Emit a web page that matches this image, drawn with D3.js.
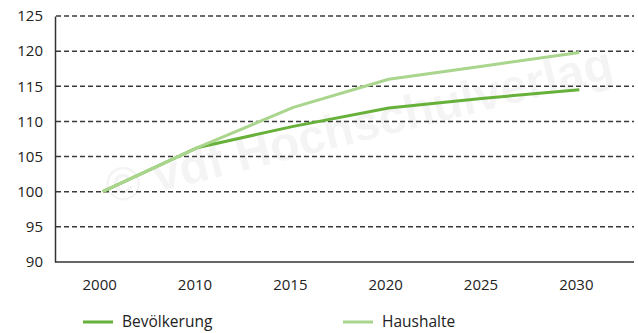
<!DOCTYPE html>
<html>
<head>
<meta charset="utf-8">
<script src="https://cdn.jsdelivr.net/npm/d3@7"></script>
<style>
  html, body { margin: 0; padding: 0; background: #fff; }
  svg { display: block; }
  text { font-family: "Open Sans", "Noto Sans", sans-serif; fill: #222; }
</style>
</head>
<body>
<svg id="chart" width="638" height="333"></svg>
<script>
// Index values (2000 = 100)
const years = ["2000", "2010", "2015", "2020", "2025", "2030"];
const bevoelkerung = [100, 106.3, 109.3, 111.9, 113.3, 114.5];
const haushalte = [100, 106.3, 112.0, 116.0, 117.9, 119.8];
const yTicks = [90, 95, 100, 105, 110, 115, 120, 125];
const seriesNames = ["Bevölkerung", "Haushalte"];
const seriesColors = ["#67b13a", "#a9d58c"];

const svg = d3.select("#chart");
const plot = { left: 55, right: 634, top: 16, bottom: 262 };

// Faint diagonal copyright watermark in the background
svg.append("text")
  .attr("transform", "translate(110,204) rotate(-14)")
  .style("font-family", "'Liberation Sans', Arial, sans-serif")
  .style("font-weight", "bold")
  .style("font-size", "48px")
  .style("fill", "#000")
  .style("fill-opacity", 0.045)
  .text("© vdf Hochschulverlag");

const x = d3.scaleBand().domain(years).range([55, 627]);
const y = d3.scaleLinear().domain([90, 125]).range([plot.bottom, plot.top]);

// Dashed horizontal gridlines
svg.append("g")
  .selectAll("line")
  .data(yTicks.filter(t => t > 90))
  .join("line")
  .attr("x1", plot.left + 1).attr("x2", plot.right)
  .attr("y1", d => y(d)).attr("y2", d => y(d))
  .attr("stroke", "#3a3a3a")
  .attr("stroke-width", 1.5)
  .attr("stroke-dasharray", "5,3");

// Y axis
const yAxis = svg.append("g")
  .attr("transform", `translate(${plot.left},0)`)
  .call(d3.axisLeft(y).tickValues(yTicks).tickSize(0).tickPadding(12));
yAxis.select(".domain").attr("stroke", "#333").attr("stroke-width", 1.5);
yAxis.selectAll("text").style("font-size", "15px").style("fill", "#222")
  .style("font-family", "'Open Sans', sans-serif");

// X axis
const xAxis = svg.append("g")
  .attr("transform", `translate(0,${plot.bottom})`)
  .call(d3.axisBottom(x).tickSize(0).tickPadding(17));
xAxis.select(".domain")
  .attr("d", `M${plot.left},0H${plot.right}`)
  .attr("stroke", "#333").attr("stroke-width", 1.5);
xAxis.selectAll("text").attr("dx", -3).style("font-size", "15px").style("fill", "#222")
  .style("font-family", "'Open Sans', sans-serif");

// Series lines
const line = d3.line()
  .x((d, i) => x(years[i]) + x.bandwidth() / 2)
  .y(d => y(d));

[bevoelkerung, haushalte].forEach((vals, i) => {
  svg.append("path")
    .datum(vals)
    .attr("d", line)
    .attr("fill", "none")
    .attr("stroke", seriesColors[i])
    .attr("stroke-width", 3)
    .attr("stroke-linejoin", "round");
});

// Legend
const legendPos = [{ x: 83, tx: 122 }, { x: 343, tx: 382 }];
const legend = svg.append("g").attr("transform", "translate(0,322)");
seriesNames.forEach((name, i) => {
  legend.append("line")
    .attr("x1", legendPos[i].x).attr("x2", legendPos[i].x + 30)
    .attr("y1", 0).attr("y2", 0)
    .attr("stroke", seriesColors[i]).attr("stroke-width", 3);
  legend.append("text")
    .attr("x", legendPos[i].tx).attr("y", 0)
    .attr("dy", "0.35em")
    .style("font-size", "15.5px")
    .text(name);
});
</script>
</body>
</html>
